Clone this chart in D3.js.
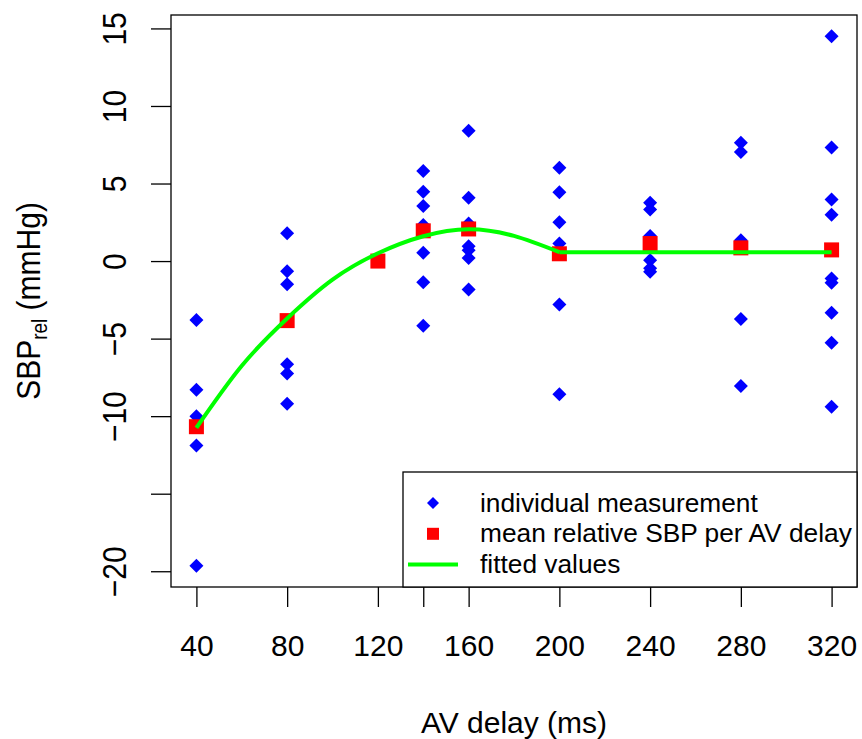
<!DOCTYPE html>
<meta charset="utf-8">
<style>
body { margin: 0; background: #fff; }
svg text { font-family: "Liberation Sans", Arial, Helvetica, sans-serif; fill: #000; }
.axis line { stroke: #000; stroke-width: 1.3px; }
.axis text { font-size: 30px; }
</style>
<svg width="862" height="739"></svg>
<script src="https://d3js.org/d3.v7.min.js"></script>
<script>
var svg = d3.select("svg");

// AV delays that were tested (ms)
var delays = [40, 80, 120, 140, 160, 200, 240, 280, 320];

// individual SBP_rel measurements per delay (mmHg), same order as delays
var individual = [
  [-3.8, -8.3, -10.0, -11.9, -19.65],
  [1.8, -0.65, -1.5, -6.65, -7.25, -9.2],
  [0.0],
  [5.81, 4.47, 3.55, 2.32, 0.54, -1.37, -4.17],
  [8.41, 4.09, 2.43, 0.95, 0.7, 0.2, -1.83],
  [6.02, 4.43, 2.5, 1.14, -2.8, -8.58],
  [3.76, 3.33, 1.61, 0.06, -0.47, -0.69],
  [7.63, 7.03, 1.35, -3.74, -8.06],
  [14.5, 7.33, 3.97, 2.99, -1.12, -1.4, -3.33, -5.27, -9.4]
];

// mean relative SBP per delay
var means = [-10.68, -3.84, 0.0, 1.95, 2.07, 0.47, 1.13, 0.85, 0.72];

// fitted curve (curved part up to 200, then flat)
var fitDelay = [40, 60, 80, 100, 120, 140, 160, 180, 200];
var fitValue = [-10.75, -6.75, -3.7, -1.2, 0.5, 1.6, 2.05, 1.62, 0.57];
var flatDelay = [200, 320];
var flatValue = [0.57, 0.57];

// ticks; labels that R dropped for overlap are left out
var xTicks = [40, 80, 120, 140, 160, 200, 240, 280, 320];
var xLabelled = [40, 80, 120, 160, 200, 240, 280, 320];
var yTicks = [-20, -15, -10, -5, 0, 5, 10, 15];
var yLabelled = [-20, -10, -5, 0, 5, 10, 15];

var legendLabels = ["individual measurement", "mean relative SBP per AV delay", "fitted values"];

// plot box
var boxL = 171, boxR = 857, boxT = 15, boxB = 587;

// flatten measurements into points
var points = [];
delays.forEach(function(d, i) {
  individual[i].forEach(function(v) { points.push({x: d, y: v}); });
});

// R style 4% padding on the data range
var xr = d3.extent(delays), yr = d3.extent(points, function(d) { return d.y; });
var xpad = (xr[1] - xr[0]) * 0.04, ypad = (yr[1] - yr[0]) * 0.04;

var x = d3.scaleLinear().domain([xr[0] - xpad, xr[1] + xpad]).range([boxL, boxR]);
var y = d3.scaleLinear().domain([yr[0] - ypad, yr[1] + ypad]).range([boxB, boxT]);

function diamond(h) {
  return "M0," + (-h) + "L" + h + ",0L0," + h + "L" + (-h) + ",0Z";
}
function minus(v) { return v < 0 ? "\u2212" + Math.abs(v) : "" + v; }

// individual points
svg.append("g").selectAll("path")
  .data(points)
  .enter().append("path")
  .attr("d", diamond(7))
  .attr("transform", function(d) { return "translate(" + x(d.x) + "," + y(d.y) + ")"; })
  .attr("fill", "#0000ff");

// means
svg.append("g").selectAll("rect")
  .data(delays)
  .enter().append("rect")
  .attr("x", function(d) { return x(d) - 7.5; })
  .attr("y", function(d, i) { return y(means[i]) - 7.5; })
  .attr("width", 15)
  .attr("height", 15)
  .attr("fill", "#ff0000");

// fitted line
var line = d3.line()
  .x(function(d) { return x(d[0]); })
  .y(function(d) { return y(d[1]); });

svg.append("path")
  .attr("d", line.curve(d3.curveNatural)(d3.zip(fitDelay, fitValue)))
  .attr("fill", "none")
  .attr("stroke", "#00ff00")
  .attr("stroke-width", 4);

svg.append("path")
  .attr("d", line.curve(d3.curveLinear)(d3.zip(flatDelay, flatValue)))
  .attr("fill", "none")
  .attr("stroke", "#00ff00")
  .attr("stroke-width", 4);

// axes
var xAxis = svg.append("g")
  .attr("class", "axis")
  .attr("transform", "translate(0," + boxB + ")")
  .call(d3.axisBottom(x).tickValues(xTicks).tickSize(20).tickSizeOuter(0)
    .tickFormat(function(d) { return xLabelled.indexOf(d) >= 0 ? d : ""; }));
xAxis.select(".domain").remove();
xAxis.selectAll("text").attr("y", 69).attr("dy", null);

var yAxis = svg.append("g")
  .attr("class", "axis")
  .attr("transform", "translate(" + boxL + ",0)")
  .call(d3.axisLeft(y).tickValues(yTicks).tickSize(20).tickSizeOuter(0)
    .tickFormat(function(d) { return yLabelled.indexOf(d) >= 0 ? minus(d) : ""; }));
yAxis.select(".domain").remove();
// rotated labels, a bit wider across like the reference
yAxis.selectAll("text")
  .attr("x", null).attr("dy", null)
  .attr("text-anchor", "middle")
  .attr("transform", "translate(-45,0) scale(1.12,1) rotate(-90)");

// box
svg.append("rect")
  .attr("x", boxL).attr("y", boxT)
  .attr("width", boxR - boxL).attr("height", boxB - boxT)
  .attr("fill", "none").attr("stroke", "#000").attr("stroke-width", 1.3);

// axis titles
svg.append("text")
  .attr("x", (boxL + boxR) / 2).attr("y", 733)
  .attr("text-anchor", "middle")
  .style("font-size", "30px")
  .text("AV delay (ms)");

var ytitle = svg.append("text")
  .attr("transform", "translate(40," + ((boxT + boxB) / 2) + ") scale(1.12,1) rotate(-90)")
  .attr("text-anchor", "middle")
  .style("font-size", "30px");
ytitle.append("tspan").text("SBP");
ytitle.append("tspan").attr("dy", 6.5).style("font-size", "19px").text("rel");
ytitle.append("tspan").attr("dy", -6.5).text(" (mmHg)");

// legend, bottom right inside the box
var lg = svg.append("g");
lg.append("rect")
  .attr("x", 403).attr("y", 472)
  .attr("width", boxR - 403).attr("height", boxB - 472)
  .attr("fill", "#fff").attr("stroke", "#000").attr("stroke-width", 1.3);

var rows = lg.selectAll("g.row")
  .data(legendLabels)
  .enter().append("g")
  .attr("class", "row")
  .attr("transform", function(d, i) { return "translate(0," + (511.5 + i * 30.8) + ")"; });

rows.append("text")
  .attr("x", 480)
  .style("font-size", "26.3px")
  .text(function(d) { return d; });

rows.filter(function(d, i) { return i === 0; }).append("path")
  .attr("d", diamond(6))
  .attr("transform", "translate(433,-8.5)")
  .attr("fill", "#0000ff");
rows.filter(function(d, i) { return i === 1; }).append("rect")
  .attr("x", 427).attr("y", -14.5).attr("width", 12).attr("height", 12)
  .attr("fill", "#ff0000");
rows.filter(function(d, i) { return i === 2; }).append("line")
  .attr("x1", 408).attr("x2", 458).attr("y1", -8.5).attr("y2", -8.5)
  .attr("stroke", "#00ff00").attr("stroke-width", 4);
</script>
